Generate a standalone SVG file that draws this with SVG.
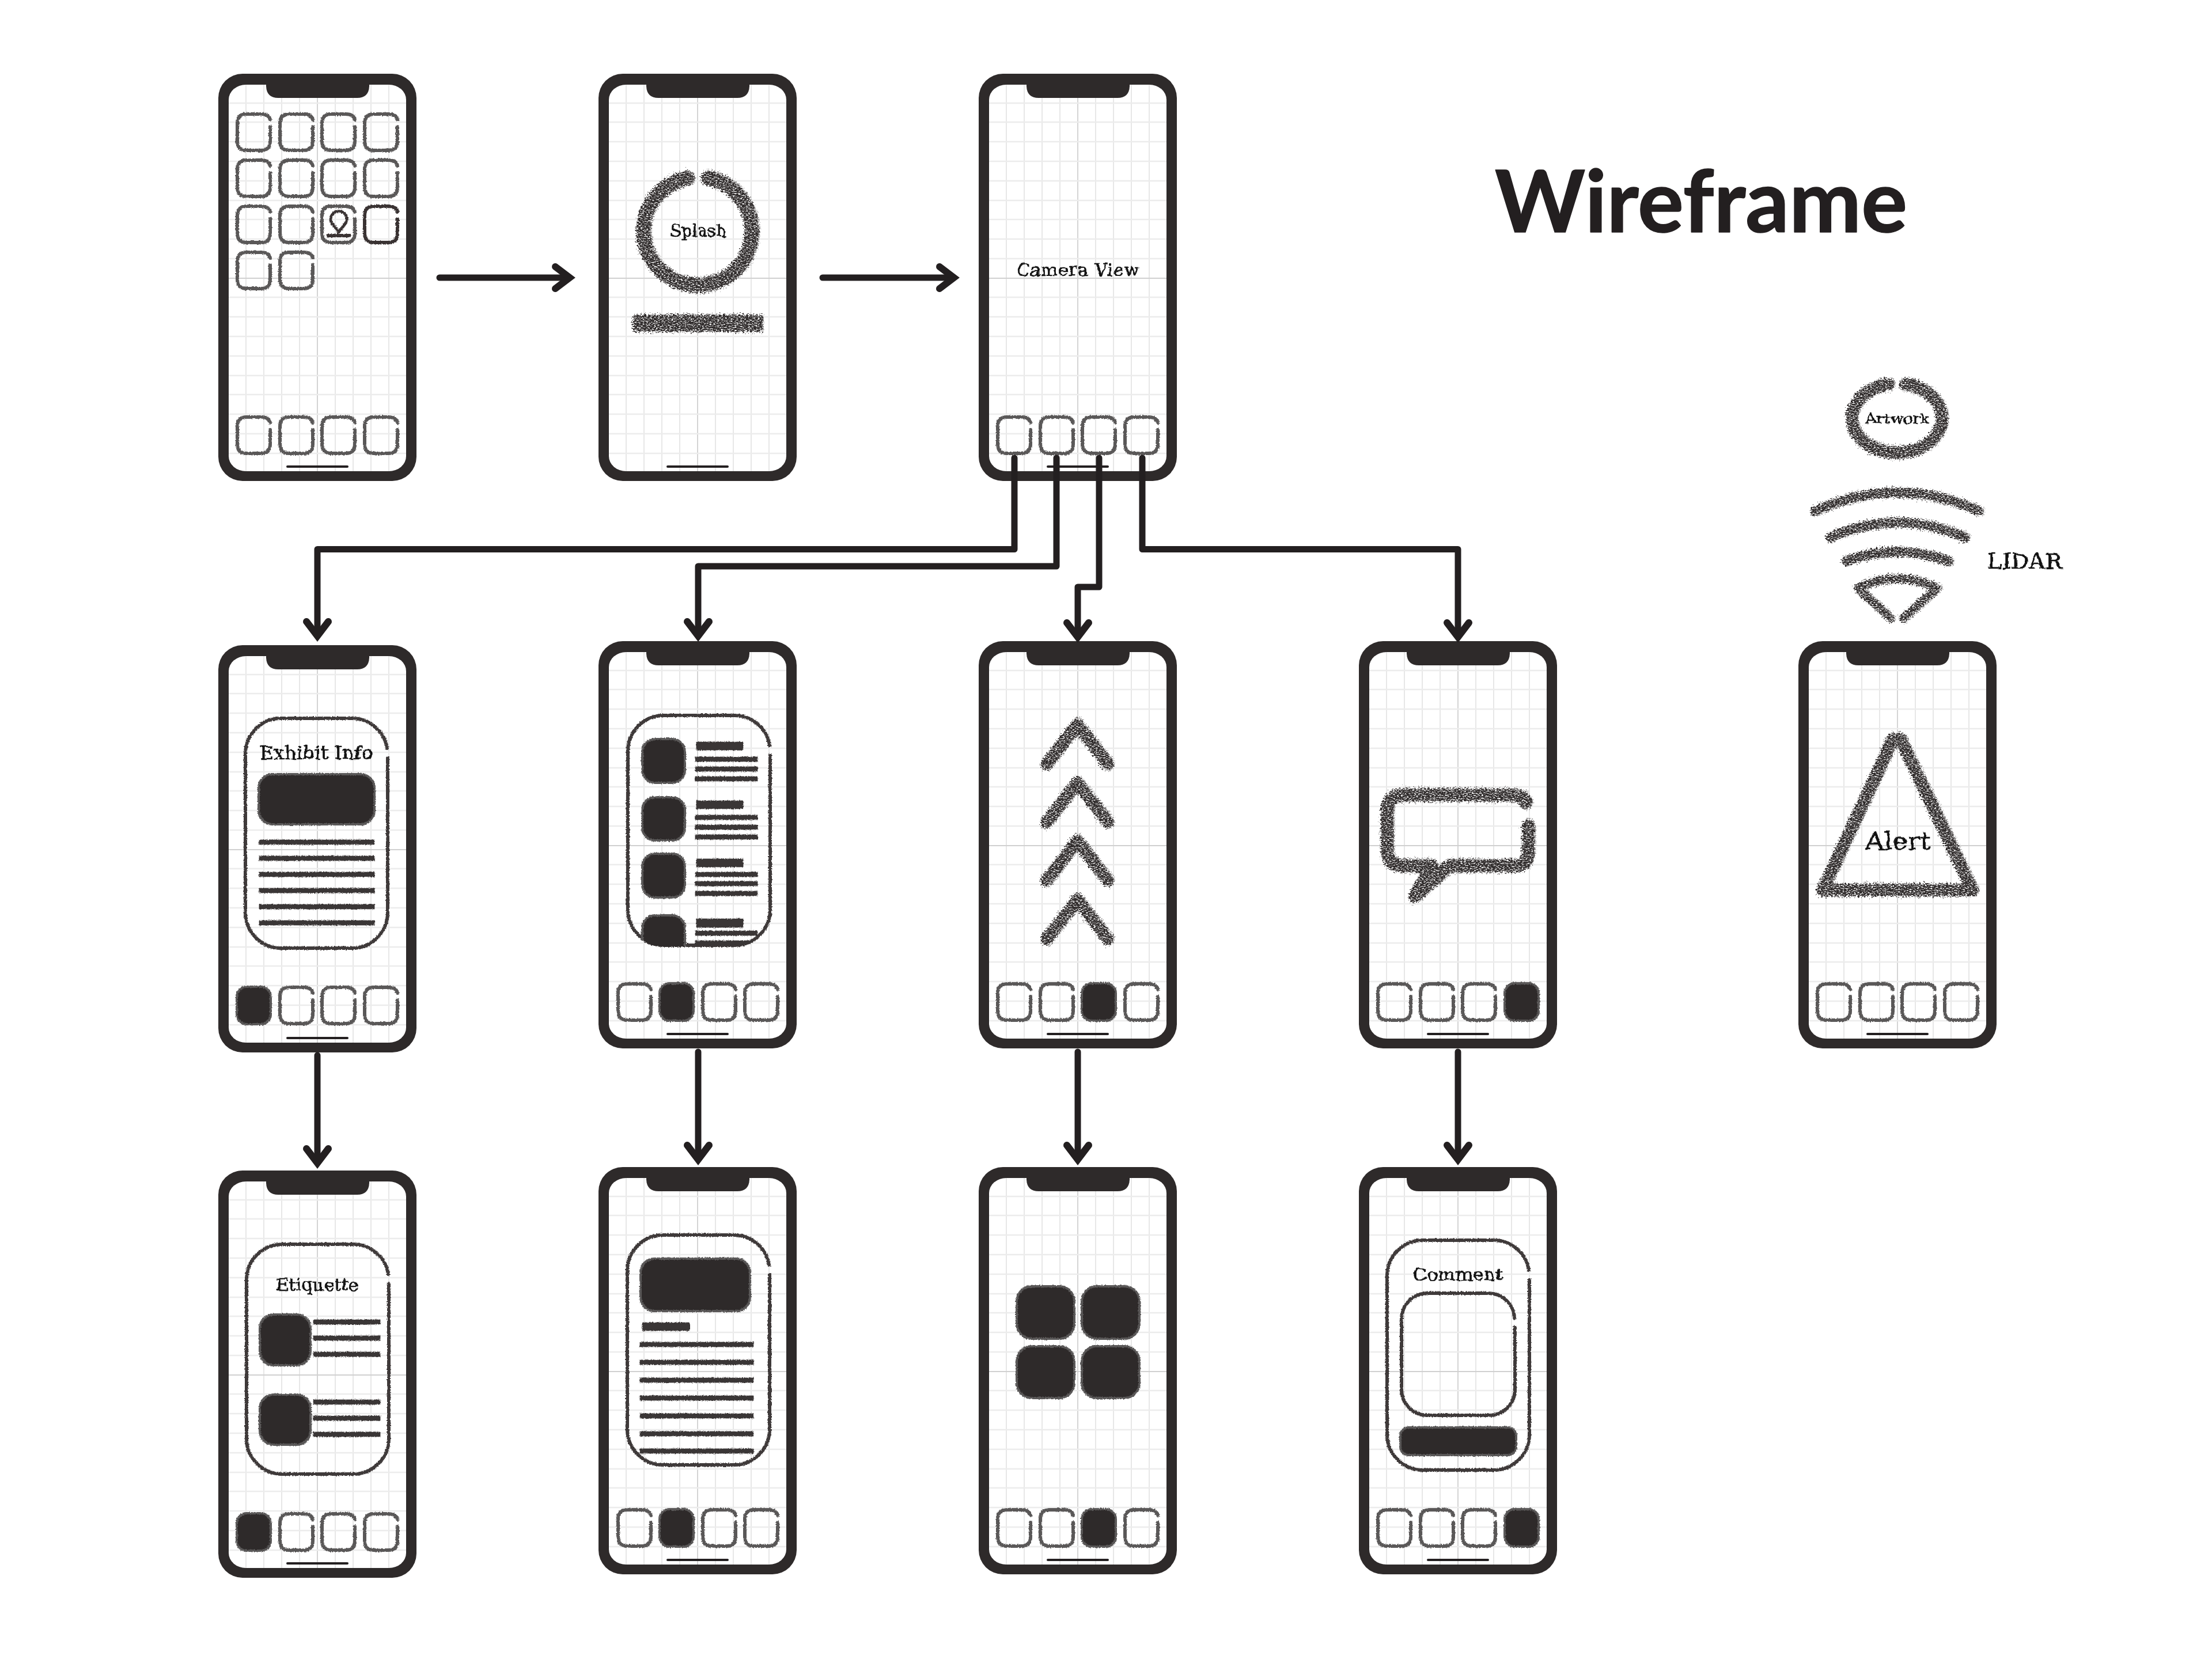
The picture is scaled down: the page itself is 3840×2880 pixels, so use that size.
<svg xmlns="http://www.w3.org/2000/svg" xmlns:xlink="http://www.w3.org/1999/xlink" width="3840" height="2880" viewBox="0 0 3840 2880">
<style>
.body{fill:#2e2a2a}
.scr{fill:#fff}
.gv{stroke:#e2e2e2;stroke-width:1.6}
.gh{stroke:#ececec;stroke-width:2.6}
.gc{stroke:#d0d0d0;stroke-width:1.8}
.ico{fill:none;stroke:#5a5858;stroke-width:6;stroke-linecap:round}
.icod{fill:none;stroke:#3a3333;stroke-width:6;stroke-linecap:round}
.tile{fill:#2e2a2a;stroke:#5a5858;stroke-width:4}
.panel{fill:none;stroke:#3f3a3a;stroke-width:6;stroke-linecap:round}
.bar{fill:#3a3636;stroke:#3a3636;stroke-width:.8}
.chalk{fill:none;stroke:#2e2a2a;stroke-linecap:round;stroke-linejoin:round}
.hand{font-family:"DejaVu Serif","Liberation Serif",serif;fill:#111;stroke:#111;stroke-width:.7;text-anchor:middle}
.conn{fill:none;stroke:#231f20;stroke-width:11;stroke-linejoin:round;stroke-linecap:round;marker-end:url(#ah)}
.title{font-family:Lato,"Noto Sans",sans-serif;font-weight:700;font-size:150px;fill:#231f20;stroke:#231f20;stroke-width:1.5;stroke-linejoin:round}
</style>
<defs>
<filter id="chalk" x="-20%" y="-30%" width="140%" height="160%" color-interpolation-filters="sRGB">
<feTurbulence type="fractalNoise" baseFrequency="0.3 0.55" numOctaves="3" seed="7" result="n"/>
<feDisplacementMap in="SourceGraphic" in2="n" scale="16" xChannelSelector="R" yChannelSelector="G" result="d"/>
<feColorMatrix in="n" type="matrix" values="0 0 0 0 0 0 0 0 0 0 0 0 0 0 0 4 0 0 0 -1.1" result="m"/>
<feComposite in="d" in2="m" operator="in"/>
</filter>
<filter id="rough" x="-5%" y="-5%" width="110%" height="110%" color-interpolation-filters="sRGB">
<feTurbulence type="fractalNoise" baseFrequency="0.45" numOctaves="2" seed="4" result="n"/>
<feDisplacementMap in="SourceGraphic" in2="n" scale="4" xChannelSelector="R" yChannelSelector="G"/>
</filter>
<filter id="ink" x="-5%" y="-15%" width="110%" height="130%" color-interpolation-filters="sRGB">
<feTurbulence type="fractalNoise" baseFrequency="0.07" numOctaves="2" seed="9" result="n"/>
<feDisplacementMap in="SourceGraphic" in2="n" scale="6" xChannelSelector="R" yChannelSelector="G"/>
</filter>
<marker id="ah" markerUnits="userSpaceOnUse" markerWidth="70" markerHeight="70" viewBox="-50 -35 70 70" refX="-14" refY="0" orient="auto">
<path d="M-31 -19 L-6 0 L-31 19" fill="none" stroke="#231f20" stroke-width="12" stroke-linecap="round" stroke-linejoin="miter" stroke-miterlimit="6"/>
</marker>
<g id="phone">
<rect class="body" width="344" height="707" rx="42" ry="42"/>
<rect class="scr" x="18" y="19" width="308" height="671" rx="30" ry="26"/>
<path class="gv" d="M48 19V690M79 19V690M110 19V690M141 19V690M203 19V690M234 19V690M265 19V690M296 19V690"/>
<path class="gc" d="M172 19V690"/>
<path class="gh" d="M18 51H326M18 84H326M18 118H326M18 152H326M18 186H326M18 220H326M18 253H326M18 287H326M18 321H326M18 388H326M18 422H326M18 456H326M18 490H326M18 524H326M18 557H326M18 591H326M18 625H326M18 659H326"/>
<path class="gc" d="M18 355H326"/>
<path class="body" d="M83 15V22Q84 42 104 42H241Q261 42 262 22V15Z"/>
<rect x="118" y="680" width="108" height="4" rx="2" fill="#231f20"/>
</g>
<path id="ic" class="ico" d="M60 25V50Q60 66 44 66H19Q3 66 3 50V19Q3 3 19 3H44Q58 3 60 13"/>
<rect id="tl" class="tile" x="2" y="2" width="59" height="65" rx="17"/>
<path id="pnl" class="panel" d="M250 72V340A62 62 0 0 1 188 402H65A62 62 0 0 1 3 340V65A62 62 0 0 1 65 3H188A62 62 0 0 1 249 55"/>
<path id="chev" class="chalk" stroke-width="22" d="M-53 68L0 0L53 68"/>
</defs>

<text id="title" class="title" x="2595" y="403" textLength="716" lengthAdjust="spacingAndGlyphs">Wireframe</text>

<g id="phone-home" transform="translate(379,128)">
<use href="#phone"/>
<g filter="url(#rough)">
<use href="#ic" x="30" y="67"/><use href="#ic" x="104" y="67"/><use href="#ic" x="177" y="67"/><use href="#ic" x="251" y="67"/>
<use href="#ic" x="30" y="147"/><use href="#ic" x="104" y="147"/><use href="#ic" x="177" y="147"/><use href="#ic" x="251" y="147"/>
<use href="#ic" x="30" y="227"/><use href="#ic" x="104" y="227"/><use href="#ic" x="177" y="227"/>
<path class="icod" transform="translate(251,227)" d="M60 25V50Q60 66 44 66H19Q3 66 3 50V19Q3 3 19 3H44Q58 3 60 13"/>
<use href="#ic" x="30" y="307"/><use href="#ic" x="104" y="307"/>
<use href="#ic" x="30" y="593"/><use href="#ic" x="104" y="593"/><use href="#ic" x="177" y="593"/><use href="#ic" x="251" y="593"/>
<path d="M209 275L196 258A14 14 0 1 1 222 258Z" fill="none" stroke="#3a3333" stroke-width="5" stroke-linejoin="round"/>
<rect x="188" y="278" width="42" height="6" fill="#3a3333"/>
</g>
</g>

<g id="phone-splash" transform="translate(1039,128)">
<use href="#phone"/>
<g filter="url(#chalk)">
<path class="chalk" stroke-width="26" d="M191 181A94 94 0 1 1 155 181"/>
<path class="chalk" stroke-width="30" style="stroke-linecap:butt" d="M60 433H286"/>
</g>
<text class="hand" x="173" y="283" font-size="30" textLength="98" lengthAdjust="spacingAndGlyphs" filter="url(#ink)">Splash</text>
</g>

<g id="phone-camera" transform="translate(1699,128)">
<use href="#phone"/>
<text class="hand" x="172" y="351" font-size="30" textLength="213" filter="url(#ink)">Camera View</text>
<g filter="url(#rough)"><use href="#ic" x="30" y="593"/><use href="#ic" x="104" y="593"/><use href="#ic" x="177" y="593"/><use href="#ic" x="251" y="593"/></g>
</g>

<g id="phone-exhibit" transform="translate(379,1120)">
<use href="#phone"/>
<g filter="url(#rough)">
<use href="#pnl" x="44" y="124"/>
<rect class="tile" x="70" y="224" width="201" height="87" rx="24"/>
<rect class="bar" x="71" y="338" width="200" height="8"/><rect class="bar" x="71" y="366" width="200" height="8"/><rect class="bar" x="71" y="394" width="200" height="8"/><rect class="bar" x="71" y="422" width="200" height="8"/><rect class="bar" x="71" y="450" width="200" height="8"/><rect class="bar" x="71" y="478" width="200" height="8"/>
<use href="#tl" x="30" y="591"/><use href="#ic" x="104" y="591"/><use href="#ic" x="177" y="591"/><use href="#ic" x="251" y="591"/>
</g>
<text class="hand" x="170" y="198" font-size="31" textLength="196" lengthAdjust="spacingAndGlyphs" filter="url(#ink)">Exhibit Info</text>
</g>

<g id="phone-list" transform="translate(1039,1113)">
<use href="#phone"/>
<clipPath id="plc"><rect x="48" y="126" width="252" height="404" rx="62"/></clipPath>
<g filter="url(#rough)">
<use href="#pnl" x="48" y="126"/>
<rect class="tile" x="76" y="170" width="74" height="76" rx="22"/><rect class="tile" x="76" y="271" width="74" height="75" rx="22"/><rect class="tile" x="76" y="369" width="74" height="76" rx="22"/>
<rect class="bar" x="170" y="175" width="81" height="14"/><rect class="bar" x="168" y="201" width="108" height="8"/><rect class="bar" x="168" y="218" width="108" height="8"/><rect class="bar" x="168" y="235" width="108" height="8"/>
<rect class="bar" x="170" y="277" width="81" height="14"/><rect class="bar" x="168" y="302" width="108" height="8"/><rect class="bar" x="168" y="319" width="108" height="8"/><rect class="bar" x="168" y="336" width="108" height="8"/>
<rect class="bar" x="170" y="378" width="81" height="14"/><rect class="bar" x="168" y="401" width="108" height="8"/><rect class="bar" x="168" y="417" width="108" height="8"/><rect class="bar" x="168" y="434" width="108" height="8"/>
<g clip-path="url(#plc)">
<rect class="tile" x="76" y="476" width="74" height="76" rx="22"/>
<rect class="bar" x="170" y="482" width="81" height="15"/><rect class="bar" x="168" y="503" width="108" height="8"/><rect class="bar" x="168" y="520" width="108" height="8"/>
</g>
<use href="#ic" x="31" y="592"/><use href="#tl" x="104" y="592"/><use href="#ic" x="178" y="592"/><use href="#ic" x="251" y="592"/>
</g>
</g>

<g id="phone-arrows" transform="translate(1699,1113)">
<use href="#phone"/>
<g filter="url(#chalk)">
<use href="#chev" x="172" y="145"/><use href="#chev" x="172" y="246"/><use href="#chev" x="172" y="347"/><use href="#chev" x="172" y="449"/>
</g>
<g filter="url(#rough)"><use href="#ic" x="30" y="592"/><use href="#ic" x="104" y="592"/><use href="#tl" x="177" y="592"/><use href="#ic" x="251" y="592"/></g>
</g>

<g id="phone-bubble" transform="translate(2359,1113)">
<use href="#phone"/>
<g filter="url(#chalk)">
<path class="chalk" stroke-width="23" d="M295 321V365Q295 390 270 390H158L98 443L127 390H78Q50 390 50 362V295Q50 267 78 267H262Q288 267 291 280"/>
</g>
<g filter="url(#rough)"><use href="#ic" x="30" y="592"/><use href="#ic" x="104" y="592"/><use href="#ic" x="177" y="592"/><use href="#tl" x="251" y="592"/></g>
</g>

<g id="phone-alert" transform="translate(3122,1113)">
<use href="#phone"/>
<g filter="url(#chalk)">
<path class="chalk" stroke-width="22" d="M178 170L303 432H43L165 170"/>
</g>
<text class="hand" x="173" y="362" font-size="42" textLength="113" lengthAdjust="spacingAndGlyphs" filter="url(#ink)">Alert</text>
<g filter="url(#rough)"><use href="#ic" x="30" y="592"/><use href="#ic" x="104" y="592"/><use href="#ic" x="177" y="592"/><use href="#ic" x="251" y="592"/></g>
</g>

<g id="artwork">
<g filter="url(#chalk)"><path class="chalk" stroke-width="22" d="M3309 667A78 60 0 1 1 3279 667"/></g>
<text class="hand" x="3294" y="735" font-size="24" textLength="111" lengthAdjust="spacingAndGlyphs" filter="url(#ink)">Artwork</text>
</g>

<g id="lidar">
<g filter="url(#chalk)">
<path class="chalk" stroke-width="17" d="M3152 887Q3294 823 3436 887"/>
<path class="chalk" stroke-width="17" d="M3178 933Q3294 881 3412 933"/>
<path class="chalk" stroke-width="17" d="M3206 974Q3294 942 3384 974"/>
<path class="chalk" stroke-width="15" d="M3283 1073L3226 1021Q3294 988 3364 1021L3305 1073"/>
</g>
<text class="hand" x="3515" y="987" font-size="38" textLength="130" lengthAdjust="spacingAndGlyphs" filter="url(#ink)">LIDAR</text>
</g>

<g id="phone-etiquette" transform="translate(379,2032)">
<use href="#phone"/>
<g filter="url(#rough)">
<use href="#pnl" x="46" y="125"/>
<rect class="tile" x="72" y="250" width="88" height="88" rx="24"/><rect class="tile" x="72" y="389" width="88" height="87" rx="24"/>
<rect class="bar" x="165" y="259" width="116" height="8"/><rect class="bar" x="165" y="287" width="116" height="8"/><rect class="bar" x="165" y="315" width="116" height="8"/>
<rect class="bar" x="165" y="398" width="116" height="8"/><rect class="bar" x="165" y="426" width="116" height="8"/><rect class="bar" x="165" y="454" width="116" height="8"/>
<use href="#tl" x="30" y="593"/><use href="#ic" x="104" y="593"/><use href="#ic" x="177" y="593"/><use href="#ic" x="251" y="593"/>
</g>
<text class="hand" x="172" y="209" font-size="30" textLength="144" lengthAdjust="spacingAndGlyphs" filter="url(#ink)">Etiquette</text>
</g>

<g id="phone-detail" transform="translate(1039,2026)">
<use href="#phone"/>
<g filter="url(#rough)">
<use href="#pnl" x="47" y="115"/>
<rect class="tile" x="73" y="159" width="190" height="91" rx="24"/>
<rect class="bar" x="76" y="270" width="82" height="14"/>
<rect class="bar" x="72" y="304" width="197" height="8"/><rect class="bar" x="72" y="335" width="197" height="8"/><rect class="bar" x="72" y="366" width="197" height="8"/><rect class="bar" x="72" y="397" width="197" height="8"/><rect class="bar" x="72" y="428" width="197" height="8"/><rect class="bar" x="72" y="459" width="197" height="8"/><rect class="bar" x="72" y="489" width="197" height="8"/>
<use href="#ic" x="31" y="592"/><use href="#tl" x="104" y="592"/><use href="#ic" x="178" y="592"/><use href="#ic" x="251" y="592"/>
</g>
</g>

<g id="phone-gallery" transform="translate(1699,2026)">
<use href="#phone"/>
<g filter="url(#rough)">
<rect class="tile" x="66" y="207" width="100" height="91" rx="26"/><rect class="tile" x="179" y="207" width="100" height="91" rx="26"/>
<rect class="tile" x="66" y="311" width="100" height="90" rx="26"/><rect class="tile" x="179" y="311" width="100" height="90" rx="26"/>
<use href="#ic" x="30" y="592"/><use href="#ic" x="104" y="592"/><use href="#tl" x="177" y="592"/><use href="#ic" x="251" y="592"/>
</g>
</g>

<g id="phone-comment" transform="translate(2359,2026)">
<use href="#phone"/>
<g filter="url(#rough)">
<use href="#pnl" x="46" y="124"/>
<path class="panel" transform="translate(71,216)" d="M200 62V170A45 45 0 0 1 155 215H48A45 45 0 0 1 3 170V48A45 45 0 0 1 48 3H155A45 45 0 0 1 199 46"/>
<rect class="tile" x="72" y="452" width="201" height="48" rx="14"/>
<use href="#ic" x="30" y="592"/><use href="#ic" x="104" y="592"/><use href="#ic" x="177" y="592"/><use href="#tl" x="251" y="592"/>
</g>
<text class="hand" x="172" y="197" font-size="30" textLength="156" lengthAdjust="spacingAndGlyphs" filter="url(#ink)">Comment</text>
</g>

<g id="connectors">
<path class="conn" d="M763 482H981"/>
<path class="conn" d="M1428 482H1648"/>
<path class="conn" d="M1761 795V953.5H551V1096"/>
<path class="conn" d="M1834 795V983H1212V1096"/>
<path class="conn" d="M1908 795V1019H1871V1098"/>
<path class="conn" d="M1983 795V953.5H2531V1098"/>
<path class="conn" d="M551 1832V2011"/>
<path class="conn" d="M1212 1826V2005"/>
<path class="conn" d="M1871 1826V2005"/>
<path class="conn" d="M2531 1826V2005"/>
</g>
</svg>
